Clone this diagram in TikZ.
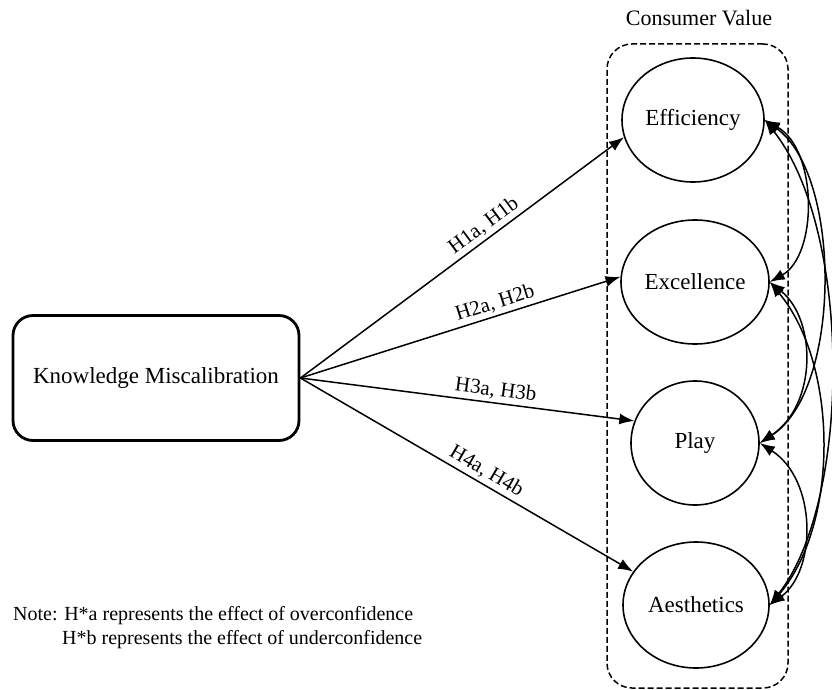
\documentclass[tikz,border=0pt]{standalone}
\usepackage{fontspec}
\setmainfont{Liberation Serif}
\usetikzlibrary{shapes.geometric,arrows.meta}
\begin{document}
\begin{tikzpicture}[x=1pt,y=-1pt,
  lat/.style={ellipse,draw,line width=1.6pt,inner sep=0pt,font=\fontsize{23}{27}\selectfont},
  arr/.style={line width=1.5pt,-{Latex[length=15pt,width=11pt]}},
  cov/.style={line width=1.5pt,{Latex[length=15pt,width=11pt]}-{Latex[length=15pt,width=11pt]}},
  hlab/.style={above,sloped,font=\fontsize{21}{25}\selectfont,inner sep=3pt},
  note/.style={anchor=base west,font=\fontsize{20}{24}\selectfont,inner sep=0pt},
]
\useasboundingbox (0,0) rectangle (832,690);
\clip (0,0) rectangle (832,690);

% container
\node[draw,dashed,dash pattern=on 6pt off 3pt,line width=1.5pt,rounded corners=25pt,
      minimum width=181pt,minimum height=644pt,inner sep=0pt] (cv) at (697.5,366) {};
\node[font=\fontsize{22}{26}\selectfont,inner sep=0pt] (cvt) at (699,18) {Consumer Value};

% latent nodes
\node[lat,minimum width=142pt,minimum height=124pt] (eff) at (693,120) {Efficiency};
\node[lat,minimum width=148pt,minimum height=124pt] (exc) at (695,282) {Excellence};
\node[lat,minimum width=128pt,minimum height=124pt] (play) at (695,443) {Play};
\node[lat,minimum width=146pt,minimum height=126pt] (aes) at (696,605) {Aesthetics};

% source
\node[draw,line width=2.8pt,rounded corners=20pt,minimum width=286pt,minimum height=125pt,
      font=\fontsize{23}{27}\selectfont] (km) at (156,378) {Knowledge Miscalibration};

% paths
\draw[arr] (km.east) -- node[hlab,pos=0.59]{H1a, H1b} (eff.194);
\draw[arr] (km.east) -- node[hlab,pos=0.62]{H2a, H2b} (exc.176);
\draw[arr] (km.east) -- node[hlab,pos=0.58]{H3a, H3b} (play.160);
\draw[arr] (km.east) -- node[hlab,pos=0.54]{H4a, H4b} (aes.152);

% covariances
\draw[cov] (eff.east) .. controls (818,150) and (818,255) .. (exc.east);
\draw[cov] (eff.east) .. controls (842,175) and (842,390) .. (play.east);
\draw[cov] (eff.east) .. controls (852,230) and (852,500) .. (aes.east);
\draw[cov] (exc.east) .. controls (817,320) and (817,405) .. (play.east);
\draw[cov] (exc.east) .. controls (839,365) and (839,525) .. (aes.east);
\draw[cov] (play.east) .. controls (817,480) and (817,570) .. (aes.east);

% note
\node[note] (n1) at (13,620) {Note: H*a represents the effect of overconfidence};
\node[note] (n2) at (62,644) {H*b represents the effect of underconfidence};
\end{tikzpicture}
\end{document}
